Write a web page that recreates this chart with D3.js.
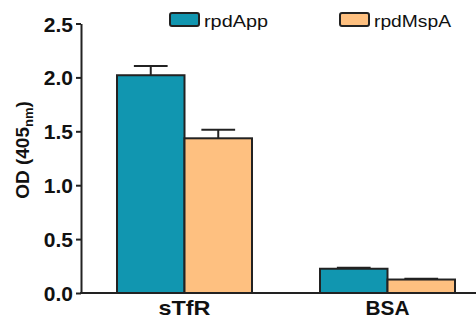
<!DOCTYPE html>
<html><head><meta charset="utf-8">
<script src="https://cdn.jsdelivr.net/npm/d3@7"></script>
<style>body{margin:0;background:#fff}svg{display:block}</style>
</head><body>
<svg id="c" width="476" height="322"></svg>
<script>
const categories = ["sTfR", "BSA"];
const seriesNames = ["rpdApp", "rpdMspA"];
const rpdApp = [2.02, 0.225];
const rpdMspA = [1.435, 0.125];
const rpdAppErr = [0.085, 0.01];
const rpdMspAErr = [0.08, 0.008];
const yTicks = [0.0, 0.5, 1.0, 1.5, 2.0, 2.5];
const colors = ["#1196b0", "#fec080"];
const FONT = "Liberation Sans, Arial, Helvetica, sans-serif";

const svg = d3.select("#c");
const y = d3.scaleLinear().domain([0, 2.5]).range([293, 23.5]);
const groupStart = d3.scaleOrdinal().domain(categories).range([117, 320]);
const x1 = d3.scaleBand().domain(seriesNames).range([0, 135]);

const series = [rpdApp, rpdMspA];
const errs = [rpdAppErr, rpdMspAErr];

const g = svg.append("g");
series.forEach((vals, si) => {
  categories.forEach((c, ci) => {
    const bx = groupStart(c) + x1(seriesNames[si]);
    const bw = x1.bandwidth();
    const top = y(vals[ci] + errs[si][ci]);
    g.append("line").attr("x1", bx + bw/2).attr("x2", bx + bw/2)
      .attr("y1", y(vals[ci])).attr("y2", top).attr("stroke", "#222").attr("stroke-width", 2);
    g.append("line").attr("x1", bx + bw/4).attr("x2", bx + 3*bw/4)
      .attr("y1", top).attr("y2", top).attr("stroke", "#222").attr("stroke-width", 2);
    g.append("rect").attr("x", bx).attr("y", y(vals[ci]))
      .attr("width", bw).attr("height", y(0) - y(vals[ci]))
      .attr("fill", colors[si]).attr("stroke", "#222").attr("stroke-width", 2);
  });
});

// y axis
const yAxis = d3.axisLeft(y).tickValues(yTicks).tickFormat(d3.format(".1f")).tickSize(5).tickSizeOuter(0);
const ya = svg.append("g").attr("transform", "translate(81,0)").call(yAxis);
ya.select(".domain").attr("stroke", "#222").attr("stroke-width", 2);
ya.selectAll(".tick line").attr("stroke", "#222").attr("stroke-width", 2);
ya.selectAll(".tick text").attr("font-family", FONT)
  .attr("font-size", 21).attr("font-weight", "bold").attr("fill", "#111").attr("x", -8).attr("dy", "0.36em");

// x axis line
svg.append("line").attr("x1", 80).attr("x2", 476).attr("y1", y(0)).attr("y2", y(0))
  .attr("stroke", "#222").attr("stroke-width", 2);
const catLen = {sTfR: 52, BSA: 44};
categories.forEach(c => {
  svg.append("text").attr("x", groupStart(c) + 67.5).attr("y", 315)
    .attr("text-anchor", "middle").attr("font-family", FONT)
    .attr("textLength", catLen[c]).attr("lengthAdjust", "spacingAndGlyphs")
    .attr("font-size", 21).attr("font-weight", "bold").attr("fill", "#111").text(c);
});

// y label
const yl = svg.append("text").attr("transform", "translate(29,150) rotate(-90)")
  .attr("text-anchor", "middle").attr("font-family", FONT)
  .attr("font-size", 19).attr("font-weight", "bold").attr("fill", "#111");
yl.append("tspan").text("OD (405");
yl.append("tspan").attr("font-size", 13).attr("dy", 4).text("nm");
yl.append("tspan").attr("dy", -4).text(")");

// legend
const legX = [170, 340];
const legLen = [64, 77];
seriesNames.forEach((n, i) => {
  svg.append("rect").attr("x", legX[i]).attr("y", 13).attr("width", 29).attr("height", 13)
    .attr("rx", 2).attr("fill", colors[i]).attr("stroke", "#222").attr("stroke-width", 2);
  svg.append("text").attr("x", legX[i] + 34).attr("y", 27)
    .attr("textLength", legLen[i]).attr("lengthAdjust", "spacingAndGlyphs")
    .attr("font-family", FONT).attr("font-size", 17)
    .attr("fill", "#111").text(n);
});
</script>
</body></html>
